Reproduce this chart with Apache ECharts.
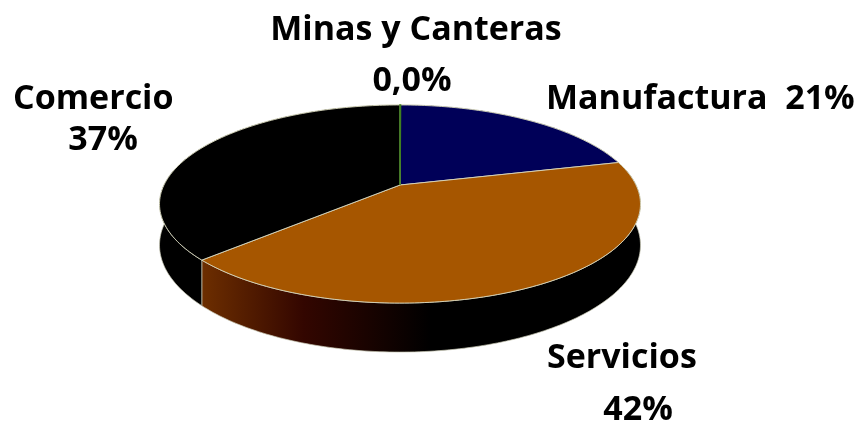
<!DOCTYPE html>
<html lang="es">
<head>
    <meta charset="UTF-8" />
    <title>Distribución por sector</title>
    <script src="https://cdn.jsdelivr.net/npm/echarts@6/dist/echarts.min.js"></script>
    <style>
        html, body { margin: 0; padding: 0; background: #fff; }
        #main { width: 866px; height: 424px; }
    </style>
</head>
<body>
<div id="main"></div>
<script>
    // datos (sentido horario desde arriba)
    var categories = ["Minas y Canteras", "Manufactura", "Servicios", "Comercio"];
    var values = [0.04, 21, 42, 37];
    var topColors = ["#3f7f1f", "#000058", "#a65600", "#000000"];

    var total = values.reduce(function (a, b) { return a + b; }, 0);
    var startAngles = [];
    var acc = 0;
    values.forEach(function (v) {
        startAngles.push(acc / total * Math.PI * 2);
        acc += v;
    });

    function pctText(v) {
        var p = v / total * 100;
        return p < 1 ? p.toFixed(1).replace(".", ",") + "%" : Math.round(p) + "%";
    }

    // proyección en perspectiva del disco
    var CX = 400, CY = 185, RX = 236, RY = 95.4, P = 0.192, H = 39.6;
    function proj(t, drop) {
        var x = Math.sin(t), z = -Math.cos(t);
        var s = 1 / (1 - P * z);
        return [CX + RX * x * s, CY + (RY * z + drop) * s];
    }
    function arc(t1, t2, drop) {
        var pts = [];
        var n = Math.max(2, Math.ceil((t2 - t1) / (Math.PI / 180)));
        for (var i = 0; i <= n; i++) {
            pts.push(proj(t1 + (t2 - t1) * i / n, drop));
        }
        return pts;
    }
    function slice(i) {
        var t1 = startAngles[i];
        var t2 = t1 + values[i] / total * Math.PI * 2;
        return [t1, t2];
    }

    var wallColors = [
        "#1f3f10",
        "#00001a",
        {
            type: "linear", x: 200, y: 0, x2: 430, y2: 0, global: true,
            colorStops: [
                { offset: 0, color: "#6e2f00" },
                { offset: 0.45, color: "#330600" },
                { offset: 1, color: "#000000" }
            ]
        },
        "#000000"
    ];

    var chart = echarts.init(document.getElementById("main"));

    var labelStyle = { fontFamily: "Open Sans", fontWeight: "bold", fontSize: 34, fill: "#000" };
    function txt(text, x, y, align) {
        return {
            type: "text",
            style: Object.assign({ text: text, x: x, y: y, align: align, verticalAlign: "middle" }, labelStyle)
        };
    }

    var option = {
        animation: false,
        series: [
            {
                // paredes laterales
                type: "custom",
                coordinateSystem: "none",
                z: 1,
                data: values,
                renderItem: function (params, api) {
                    var i = params.dataIndex;
                    var a = slice(i);
                    var top = arc(a[0], a[1], 0);
                    var bottom = arc(a[0], a[1], H).reverse();
                    return {
                        type: "polygon",
                        shape: { points: top.concat(bottom) },
                        style: { fill: wallColors[i], stroke: "rgba(200,200,180,0.7)", lineWidth: 1 }
                    };
                }
            },
            {
                // cara superior
                type: "custom",
                coordinateSystem: "none",
                z: 2,
                data: values,
                renderItem: function (params, api) {
                    var i = params.dataIndex;
                    var a = slice(i);
                    var pts = [[CX, CY]].concat(arc(a[0], a[1], 0));
                    var isTiny = values[i] / total < 0.005;
                    return {
                        type: "polygon",
                        z2: isTiny ? 10 : 0,
                        shape: { points: pts },
                        style: {
                            fill: topColors[i],
                            stroke: isTiny ? topColors[i] : "rgba(215,215,190,0.9)",
                            lineWidth: isTiny ? 1.6 : 1
                        }
                    };
                }
            }
        ],
        graphic: [
            txt(categories[0], 416, 30, "center"),
            txt(pctText(values[0]), 412, 81, "center"),
            txt(categories[1] + "  " + pctText(values[1]), 546, 99, "left"),
            txt(categories[2], 547, 358, "left"),
            txt(pctText(values[2]), 638, 410, "center"),
            txt(categories[3], 13, 99, "left"),
            txt(pctText(values[3]), 103, 140, "center")
        ]
    };

    chart.setOption(option);
</script>
</body>
</html>
